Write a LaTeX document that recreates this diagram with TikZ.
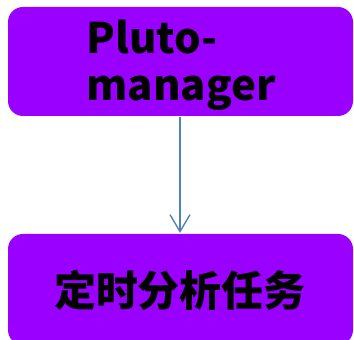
\documentclass[tikz,border=0pt]{standalone}
\usepackage{fontspec}
\newfontfamily\cjk{Noto Sans CJK SC}
\usetikzlibrary{arrows.meta}
\definecolor{boxpurple}{RGB}{153,0,255}
\definecolor{arrowblue}{RGB}{79,129,189}
\tikzset{
  pbox/.style={fill=boxpurple, draw=none, rounded corners=15pt},
  plabel/.style={text=black, font=\cjk\bfseries\fontsize{42}{47}\selectfont, inner sep=0pt},
  conn/.style={draw=arrowblue, line width=1.4pt, -{Straight Barb[length=17pt,width=20pt,line width=1.4pt]}}
}
\begin{document}
\begin{tikzpicture}[x=1pt,y=1pt]
\useasboundingbox (0,0) rectangle (354,340);
\path[pbox] (8,340-116) rectangle (353,340-7);
\path[pbox] (8,-5) rectangle (353,340-234);
\node[plabel, align=left] (top) at (181,340-65) {Pluto-\\manager};
\node[plabel] (bottom) at (180,340-290) {定时分析任务};
\coordinate (a) at (180,340-117);
\coordinate (b) at (180,340-233);
\draw[conn] (a) -- (b);
\end{tikzpicture}
\end{document}
